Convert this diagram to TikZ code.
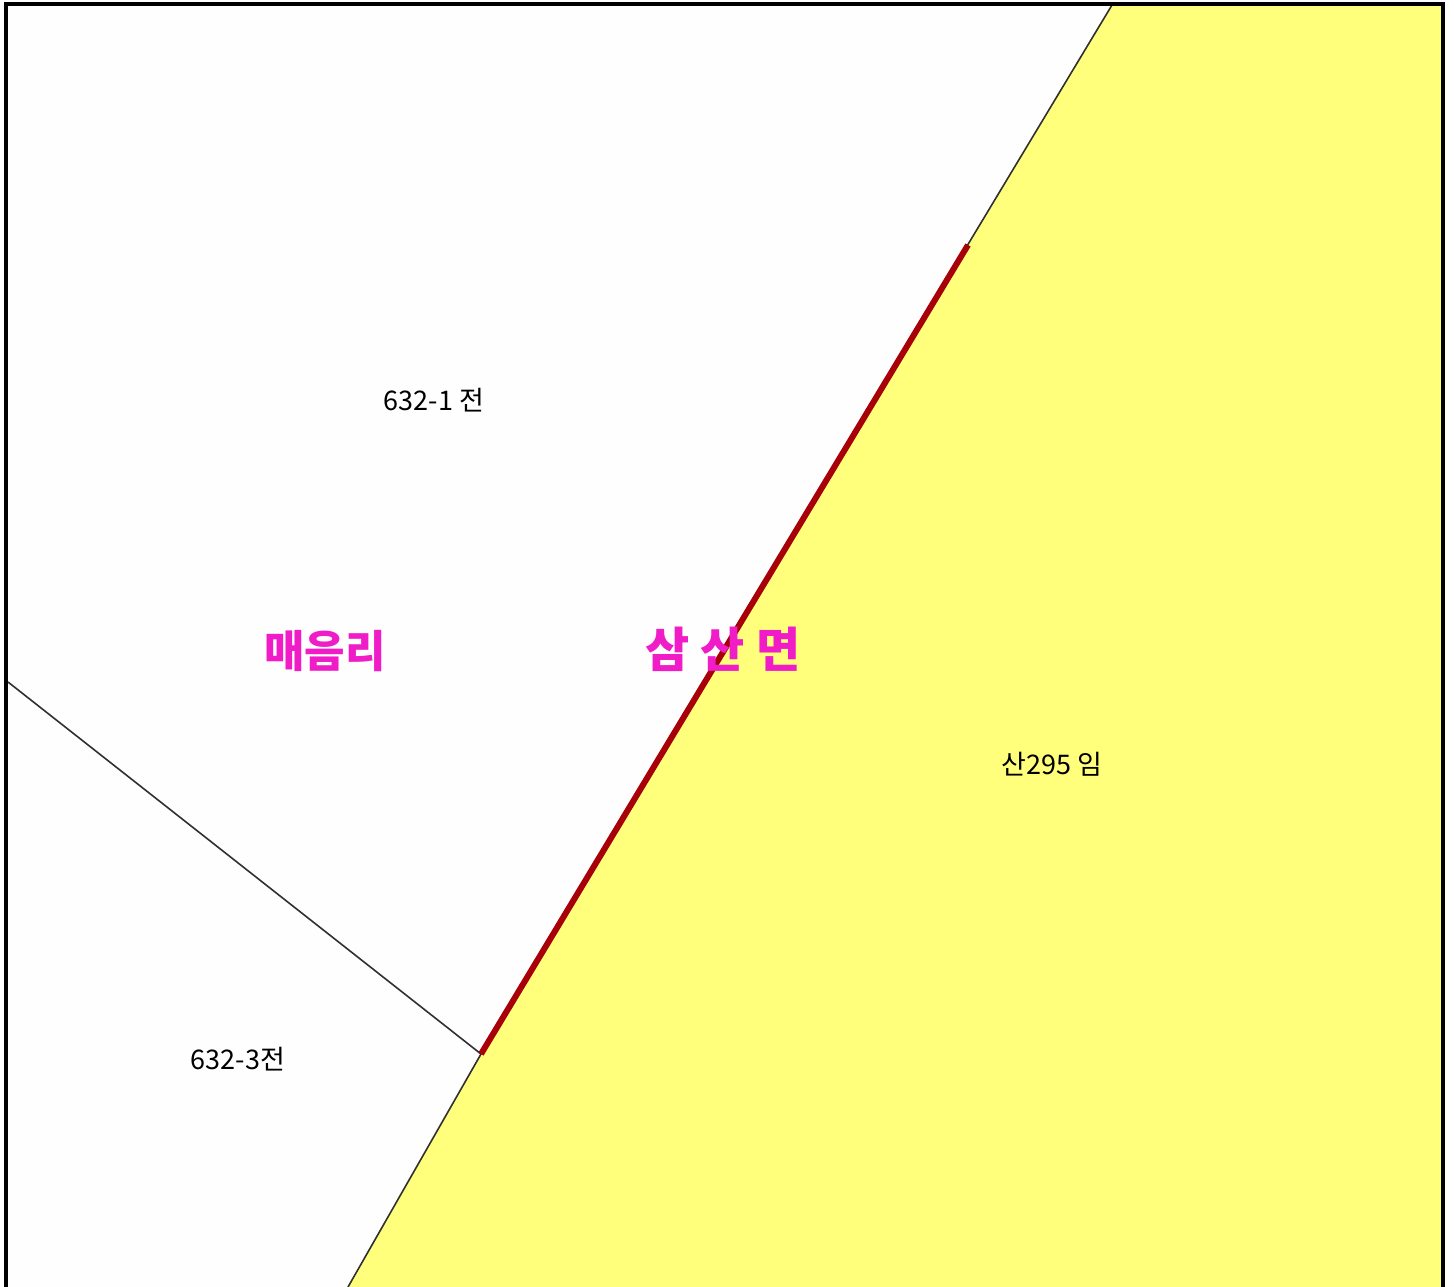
\documentclass[tikz,border=0pt]{standalone}
\usepackage{fontspec}
\newfontfamily\krfont{Noto Sans CJK KR}
\definecolor{magentapink}{HTML}{F01CC8}
\definecolor{landyellow}{HTML}{FFFF7C}
\definecolor{linegray}{HTML}{303030}
\definecolor{redline}{HTML}{A80008}
\definecolor{paper}{HTML}{FEFEFE}
\tikzset{
  parcel/.style={font=\krfont\fontsize{27}{29}\selectfont, text=black, inner sep=0pt},
  placename/.style={font=\krfont\bfseries\fontsize{#1}{#1}\selectfont, text=magentapink, inner sep=0pt},
  boundary/.style={draw=linegray, line width=1.6pt},
}
\begin{document}
\begin{tikzpicture}[x=1pt,y=-1pt]
\useasboundingbox (0,0) rectangle (1454,1287);
\fill[white] (0,0) rectangle (1454,1287);
\fill[paper] (6,4) rectangle (1443,1287);
\coordinate (T) at (1112,5);
\coordinate (B) at (348,1287);
\coordinate (RT) at (968,245);
\coordinate (RB) at (481,1054);
\coordinate (L) at (8,682);
\fill[landyellow] (T) -- (1443,5) -- (1443,1287) -- (B) -- (RB) -- cycle;
\draw[boundary] (T) -- (RB) -- (B);
\draw[boundary] (L) -- (RB);
\draw[draw=redline, line width=6pt] (RT) -- (RB);
\draw[black, line width=4.5pt] (6,1287) -- (6,4) -- (1443,4) -- (1443,1287);
\node[parcel] (a) at (434,400) {632-1 전};
\node[parcel] (b) at (238,1059) {632-3전};
\node[parcel] (c) at (1052,764) {산295 임};
\node[placename=44] (d) at (325,651) {매음리};
\node[placename=48] (e) at (723,649) {삼 산 면};
\end{tikzpicture}
\end{document}
